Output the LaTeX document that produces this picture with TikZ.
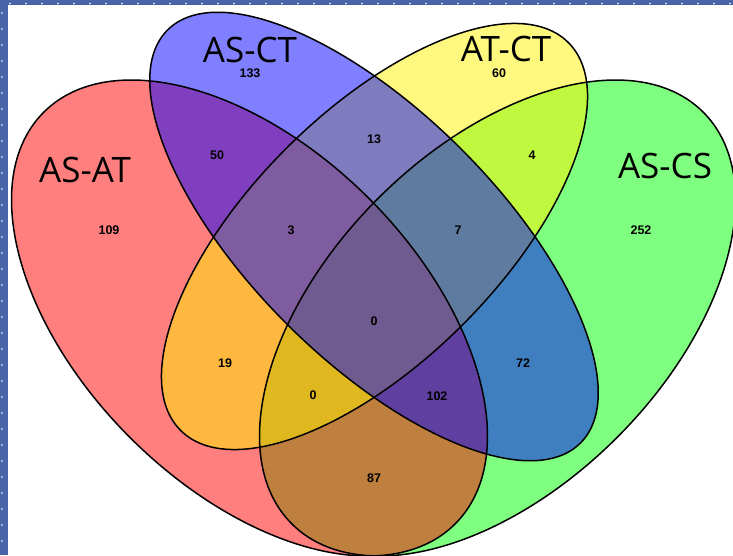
\documentclass[tikz,border=0pt]{standalone}
\usepackage{fontspec}
\newfontfamily\labelfont{Open Sans}
\newfontfamily\numfont{Liberation Sans}
\definecolor{frameblue}{RGB}{74,100,170}
\tikzset{
  setfill/.style={fill=#1, fill opacity=0.5, draw=none},
  setline/.style={draw=black, line width=1.5pt},
  setname/.style={font=\labelfont\fontsize{35}{40}\selectfont, text=black, inner sep=0pt},
  count/.style={font=\numfont\bfseries\fontsize{12.5}{14}\selectfont, text=black, inner sep=0pt},
  blueell/.style={x radius=292pt, y radius=123.5pt},
  yellowell/.style={x radius=274.2pt, y radius=124.7pt},
  wideell/.style={x radius=291pt, y radius=169pt},
}
\begin{document}
\begin{tikzpicture}[x=1pt,y=-1pt]
\useasboundingbox (0,0) rectangle (733,555);
\clip (0,0) rectangle (733,555);
\fill[white] (0,0) rectangle (733,555);
% centres of the four sets
\coordinate (cR) at (249.5,318);
\coordinate (cB) at (374,236.5);
\coordinate (cY) at (374.5,236.5);
\coordinate (cG) at (497.5,318);
% fills (order: green, red, yellow, blue)
\fill[setfill=green, rotate around={45:(cG)}] (cG) ellipse [wideell];
\fill[setfill=red, rotate around={-45:(cR)}] (cR) ellipse [wideell];
\fill[setfill=yellow, rotate around={45:(cY)}] (cY) ellipse [yellowell];
\fill[setfill=blue, rotate around={-45:(cB)}] (cB) ellipse [blueell];
% outlines
\draw[setline, rotate around={45:(cG)}] (cG) ellipse [wideell];
\draw[setline, rotate around={-45:(cR)}] (cR) ellipse [wideell];
\draw[setline, rotate around={45:(cY)}] (cY) ellipse [yellowell];
\draw[setline, rotate around={-45:(cB)}] (cB) ellipse [blueell];
% set names
\node[setname] (nAT) at (85,170) {AS-AT};
\node[setname] (nCT) at (250,49.5) {AS-CT};
\node[setname] (nATCT) at (506,49) {AT-CT};
\node[setname] (nCS) at (665,166) {AS-CS};
% counts
\node[count] (k1) at (109,230) {109};
\node[count] (k2) at (250,73) {133};
\node[count] (k3) at (499,73) {60};
\node[count] (k4) at (641,230) {252};
\node[count] (k5) at (217,155) {50};
\node[count] (k6) at (374,139) {13};
\node[count] (k7) at (532,155) {4};
\node[count] (k8) at (291,230) {3};
\node[count] (k9) at (458,230) {7};
\node[count] (k10) at (374,321) {0};
\node[count] (k11) at (225,363) {19};
\node[count] (k12) at (523,363) {72};
\node[count] (k13) at (313,395) {0};
\node[count] (k14) at (437,396) {102};
\node[count] (k15) at (374,478) {87};
% screenshot frame
\fill[frameblue] (0,0) rectangle (7.5,555);
\fill[frameblue] (0,0) rectangle (733,4.8);
\foreach \yy in {13,29,...,555} \fill[white] (2,\yy) circle (0.8pt);
\foreach \xx in {10,26,...,733} \fill[white] (\xx,3.5) circle (0.8pt);
\end{tikzpicture}
\end{document}
